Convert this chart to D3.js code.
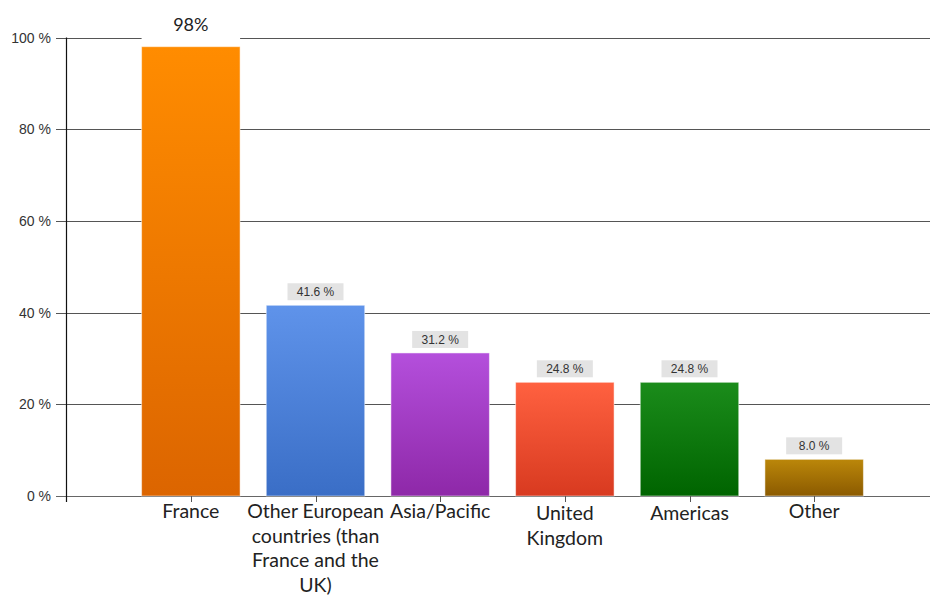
<!DOCTYPE html>
<html>
<head>
<meta charset="utf-8">
<script src="https://cdn.jsdelivr.net/npm/d3@7"></script>
<style>
  body { margin: 0; background: #fff; }
  svg { display: block; }
</style>
</head>
<body>
<svg></svg>
<script>
let categories = ['France', 'Other European countries (than France and the UK)', 'Asia/Pacific', 'United Kingdom', 'Americas', 'Other']
let categoryLines = [
  ['France'],
  ['Other European', 'countries (than', 'France and the', 'UK)'],
  ['Asia/Pacific'],
  ['United', 'Kingdom'],
  ['Americas'],
  ['Other']
]
let values = [98, 41.6, 31.2, 24.8, 24.8, 8.0]
let labels = ['98%', '41.6 %', '31.2 %', '24.8 %', '24.8 %', '8.0 %']
let topColors = ['#ff8c00', '#5f93ea', '#b44fdc', '#ff6140', '#1b8c1b', '#bb870a']
let bottomColors = ['#dc6500', '#3a6ec6', '#8e28a8', '#d83a20', '#006400', '#8b5a00']
let yTicks = [0, 20, 40, 60, 80, 100]

let width = 930
let height = 595

let svg = d3.select('svg')
  .attr('width', width)
  .attr('height', height)

let xScale = d3.scaleBand()
  .domain(categories)
  .range([128.5, 876.5])
  .paddingInner(0.21)
  .paddingOuter(0.105)

let yScale = d3.scaleLinear()
  .domain([0, 100])
  .range([496, 37.5])

// gradients
let defs = svg.append('defs')
categories.forEach((c, i) => {
  let g = defs.append('linearGradient')
    .attr('id', 'grad' + i)
    .attr('x1', 0).attr('y1', 0).attr('x2', 0).attr('y2', 1)
  g.append('stop').attr('offset', '0%').attr('stop-color', topColors[i])
  g.append('stop').attr('offset', '100%').attr('stop-color', bottomColors[i])
})

// grid lines
svg.append('g')
  .selectAll('line')
  .data(yTicks)
  .enter()
  .append('line')
  .attr('x1', 56)
  .attr('x2', width)
  .attr('y1', (d) => Math.round(yScale(d)) + 0.5)
  .attr('y2', (d) => Math.round(yScale(d)) + 0.5)
  .attr('stroke', (d) => d === 0 ? '#666' : '#555')
  .attr('stroke-width', 1.2)

// y tick labels
svg.append('g')
  .selectAll('text')
  .data(yTicks)
  .enter()
  .append('text')
  .attr('x', 51)
  .attr('y', (d) => yScale(d) + 5)
  .attr('text-anchor', 'end')
  .style('font-family', 'Liberation Sans, Arial, sans-serif')
  .style('font-size', '14px')
  .style('fill', '#333')
  .text((d) => d + ' %')

// y axis line
svg.append('line')
  .attr('x1', 66.5).attr('x2', 66.5)
  .attr('y1', yScale(100)).attr('y2', 502)
  .attr('stroke', '#111')
  .attr('stroke-width', 1.2)

// bars
svg.selectAll('rect.bar')
  .data(values)
  .enter()
  .append('rect')
  .attr('class', 'bar')
  .attr('x', (d, i) => xScale(categories[i]))
  .attr('width', xScale.bandwidth())
  .attr('y', (d) => yScale(d))
  .attr('height', (d) => yScale(0) - yScale(d))
  .attr('fill', (d, i) => 'url(#grad' + i + ')')
  .attr('stroke', 'rgba(255,255,255,0.5)')
  .attr('stroke-width', 1)

// x ticks
svg.append('g')
  .selectAll('line')
  .data(categories)
  .enter()
  .append('line')
  .attr('x1', (d) => Math.round(xScale(d) + xScale.bandwidth() / 2) + 0.5)
  .attr('x2', (d) => Math.round(xScale(d) + xScale.bandwidth() / 2) + 0.5)
  .attr('y1', yScale(0))
  .attr('y2', yScale(0) + 6)
  .attr('stroke', '#555')

// value labels
values.forEach((v, i) => {
  let cx = xScale(categories[i]) + xScale.bandwidth() / 2
  if (i === 0) {
    svg.append('rect')
      .attr('x', xScale(categories[i]))
      .attr('y', 8)
      .attr('width', xScale.bandwidth())
      .attr('height', yScale(v) - 10)
      .attr('fill', '#fff')
    svg.append('text')
      .attr('x', cx)
      .attr('y', 31)
      .attr('text-anchor', 'middle')
      .style('font-family', 'Lato, sans-serif')
      .style('font-size', '18px')
      .style('fill', '#222')
      .text(labels[i])
  } else {
    let by = yScale(v) - 22
    svg.append('rect')
      .attr('x', cx - 28)
      .attr('y', by)
      .attr('width', 56)
      .attr('height', 17)
      .attr('fill', '#e3e3e3')
    svg.append('text')
      .attr('x', cx)
      .attr('y', by + 13)
      .attr('text-anchor', 'middle')
      .style('font-family', 'Liberation Sans, Arial, sans-serif')
      .style('font-size', '12px')
      .style('fill', '#333')
      .text(labels[i])
  }
})

// category labels
categories.forEach((c, i) => {
  let cx = xScale(c) + xScale.bandwidth() / 2
  let t = svg.append('text')
    .attr('text-anchor', 'middle')
    .style('font-family', 'Lato, sans-serif')
    .style('font-size', '19.5px')
    .style('fill', '#222')
  categoryLines[i].forEach((l, j) => {
    t.append('tspan')
      .attr('x', cx)
      .attr('y', 518 + j * 24.5 + (i === 3 || i === 4 ? 2 : 0))
      .text(l)
  })
})
</script>
</body>
</html>
